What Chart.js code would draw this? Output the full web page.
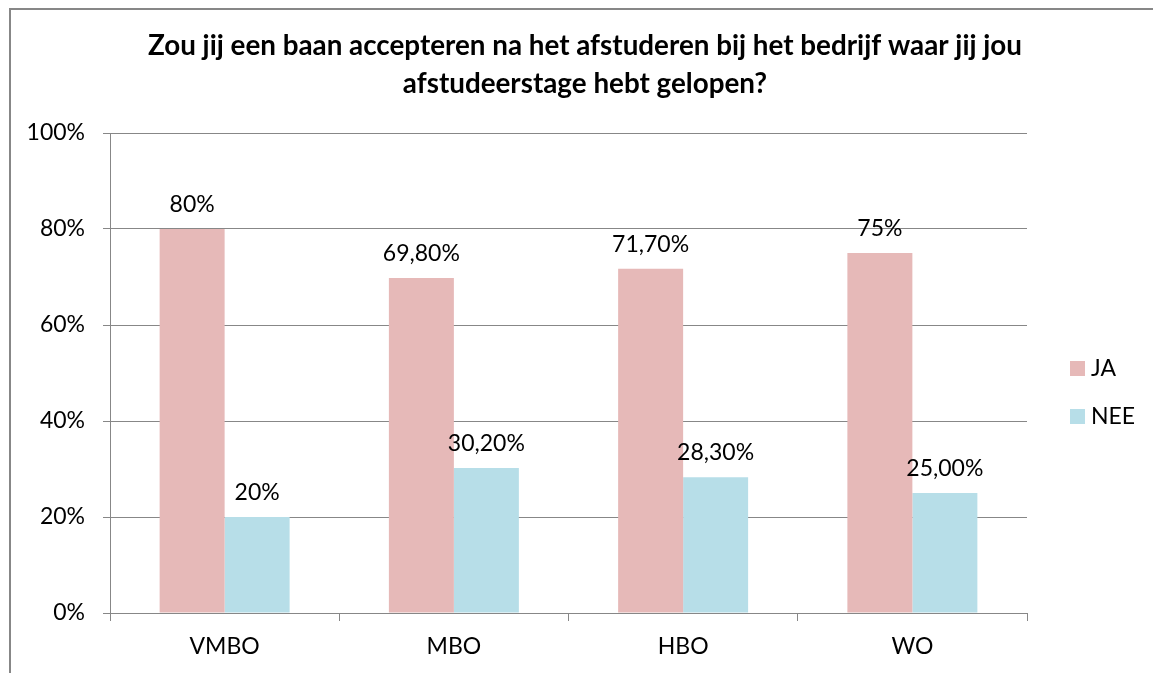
<!DOCTYPE html>
<html lang="nl">
<head>
    <meta charset="UTF-8">
    <title>Baan accepteren na afstudeerstage</title>
    <style>
        html, body {
            margin: 0;
            padding: 0;
            background: #fff;
            overflow: hidden;
        }

        .frame {
            position: absolute;
            left: 9px;
            top: 8px;
            width: 2000px;
            height: 2000px;
            border-left: 2px solid #878787;
            border-top: 2px solid #878787;
        }

        .wrap {
            position: absolute;
            left: 0;
            top: 0;
            width: 1153px;
            height: 673px;
        }
    </style>
    <script src="https://cdn.jsdelivr.net/npm/chart.js"></script>
</head>
<body>
    <div class="frame"></div>
    <div class="wrap">
        <canvas id="chart" width="1153" height="673"></canvas>
    </div>

    <script>
        const categories = ['VMBO', 'MBO', 'HBO', 'WO'];
        const jaValues = [80, 69.8, 71.7, 75];
        const neeValues = [20, 30.2, 28.3, 25];
        const jaLabels = ['80%', '69,80%', '71,70%', '75%'];
        const neeLabels = ['20%', '30,20%', '28,30%', '25,00%'];
        const titleLines = ['Zou jij een baan accepteren na het afstuderen bij het bedrijf waar jij jou', 'afstudeerstage hebt gelopen?'];

        const FONT = 'Lato, "Open Sans", sans-serif';
        const GRID = '#878787';
        const TXT = 23;

        // titel, legenda en waardelabels zelf tekenen
        const extras = {
            id: 'extras',
            afterDatasetsDraw(chart) {
                const ctx = chart.ctx;
                ctx.save();

                // waardes boven de staven
                ctx.font = TXT + 'px ' + FONT;
                ctx.fillStyle = '#000';
                ctx.textAlign = 'center';
                ctx.textBaseline = 'alphabetic';
                const allLabels = [jaLabels, neeLabels];
                chart.data.datasets.forEach((ds, i) => {
                    chart.getDatasetMeta(i).data.forEach((bar, j) => {
                        ctx.fillText(allLabels[i][j], bar.x, bar.y - 17);
                    });
                });

                // titel
                ctx.font = 'bold 25px ' + FONT;
                const w = ctx.measureText(titleLines[0]).width;
                const size = 25 * 874 / w;
                ctx.font = 'bold ' + size.toFixed(2) + 'px ' + FONT;
                ctx.fillText(titleLines[0], 585, 55);
                ctx.fillText(titleLines[1], 585, 93);

                // legenda
                ctx.font = TXT + 'px ' + FONT;
                ctx.textAlign = 'left';
                ctx.textBaseline = 'middle';
                chart.data.datasets.forEach((ds, i) => {
                    const y = 361 + i * 48;
                    ctx.fillStyle = ds.backgroundColor;
                    ctx.fillRect(1070, y, 15, 15);
                    ctx.fillStyle = '#000';
                    ctx.fillText(ds.label, 1091, y + 8);
                });

                ctx.restore();
            }
        };

        new Chart(document.getElementById('chart'), {
            type: 'bar',
            data: {
                labels: categories,
                datasets: [{
                    label: 'JA',
                    data: jaValues,
                    backgroundColor: '#E6B9B8',
                    borderWidth: 0,
                    categoryPercentage: 0.567,
                    barPercentage: 1.0
                }, {
                    label: 'NEE',
                    data: neeValues,
                    backgroundColor: '#B7DEE8',
                    borderWidth: 0,
                    categoryPercentage: 0.567,
                    barPercentage: 1.0
                }]
            },
            options: {
                responsive: false,
                animation: false,
                layout: {
                    padding: { left: 0, right: 126, top: 133, bottom: 0 }
                },
                plugins: {
                    legend: { display: false },
                    title: { display: false },
                    tooltip: { enabled: false }
                },
                scales: {
                    x: {
                        afterFit: s => { s.height = 60; },
                        grid: {
                            offset: true,
                            drawOnChartArea: false,
                            drawTicks: true,
                            tickLength: 8,
                            color: GRID
                        },
                        border: { color: GRID, width: 1 },
                        ticks: {
                            color: '#000',
                            padding: 12,
                            font: { family: FONT, size: TXT }
                        }
                    },
                    y: {
                        min: 0,
                        max: 100,
                        afterFit: s => { s.width = 110; },
                        grid: {
                            color: GRID,
                            tickLength: 7
                        },
                        border: { color: GRID, width: 1 },
                        ticks: {
                            stepSize: 20,
                            color: '#000',
                            padding: 18,
                            font: { family: FONT, size: TXT },
                            callback: v => v + '%'
                        }
                    }
                }
            },
            plugins: [extras]
        });
    </script>
</body>
</html>
